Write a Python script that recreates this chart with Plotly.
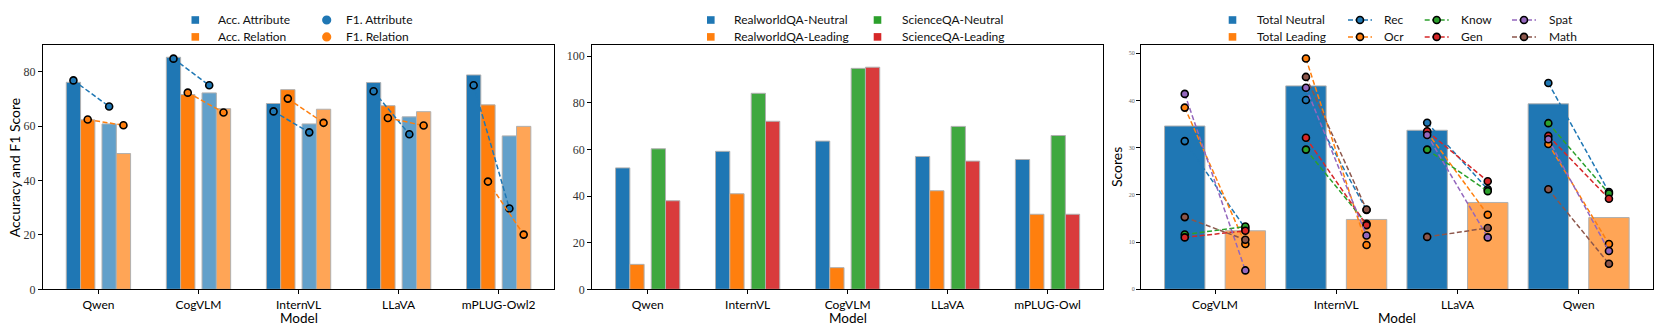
import plotly.graph_objects as go

# ---------------- data ----------------
models_1 = ["Qwen", "CogVLM", "InternVL", "LLaVA", "mPLUG-Owl2"]
acc_attr_a = [76.1, 85.3, 68.3, 76.0, 78.8]
acc_rel_a = [62.3, 71.6, 73.4, 67.5, 67.8]
acc_attr_b = [60.8, 72.2, 60.8, 63.4, 56.4]
acc_rel_b = [49.9, 66.4, 66.2, 65.3, 59.9]
f1_attr_a = [76.8, 84.8, 65.4, 72.8, 75.0]
f1_attr_b = [67.2, 75.0, 57.7, 57.0, 29.7]
f1_rel_a = [62.4, 72.3, 70.1, 63.0, 39.6]
f1_rel_b = [60.3, 65.0, 61.2, 60.2, 20.1]

models_2 = ["Qwen", "InternVL", "CogVLM", "LLaVA", "mPLUG-Owl"]
rw_neutral = [52.1, 59.2, 63.6, 57.0, 55.7]
rw_leading = [10.7, 41.0, 9.3, 42.3, 32.2]
sq_neutral = [60.3, 84.1, 94.8, 69.9, 66.0]
sq_leading = [38.0, 72.1, 95.3, 55.0, 32.2]

models_3 = ["CogVLM", "InternVL", "LLaVA", "Qwen"]
total_neutral = [34.6, 43.1, 33.7, 39.3]
total_leading = [12.4, 14.8, 18.4, 15.2]
cat_names = ["Rec", "Ocr", "Know", "Gen", "Spat", "Math"]
cat_neutral = {
    "Rec": [31.4, 40.1, 35.3, 43.7],
    "Ocr": [38.5, 48.9, 33.3, 30.8],
    "Know": [11.6, 29.6, 29.6, 35.2],
    "Gen": [11.0, 32.1, 33.5, 32.5],
    "Spat": [41.4, 42.7, 32.7, 31.8],
    "Math": [15.3, 45.0, 11.1, 21.2],
}
cat_leading = {
    "Rec": [12.9, 16.8, 21.2, 20.6],
    "Ocr": [9.6, 9.4, 15.8, 9.6],
    "Know": [13.3, 13.9, 20.8, 20.3],
    "Gen": [12.4, 13.6, 22.9, 19.2],
    "Spat": [4.0, 11.4, 11.0, 8.1],
    "Math": [10.5, 16.9, 13.0, 5.4],
}

# ---------------- styles ----------------
W, H = 1661, 332
BLUE, ORANGE, GREEN, RED = "#1f77b4", "#ff7f0e", "#2ca02c", "#d62728"
LBLUE, LORANGE = "#62a0ca", "#ffa556"
GREEN2, RED2 = "#3fa83f", "#d93b3c"
CAT_COL = {"Rec": BLUE, "Ocr": ORANGE, "Know": GREEN, "Gen": RED,
           "Spat": "#9467bd", "Math": "#8c564b"}
EDGE = dict(color="#b0b0b0", width=1)
SANS = "Lato"
SERIF = "Liberation Serif"
DASH = "5px,2.5px"


def fx(p):
    return p / W


def fy(p):
    return 1 - p / H


fig = go.Figure()

# ---------------- panel 1 ----------------
w1 = 1 / 7
offs1 = [-1.75 * w1, -0.75 * w1, 0.75 * w1, 1.75 * w1]
idx1 = list(range(len(models_1)))
for vals, col, off in [(acc_attr_a, BLUE, offs1[0]), (acc_rel_a, ORANGE, offs1[1]),
                       (acc_attr_b, LBLUE, offs1[2]), (acc_rel_b, LORANGE, offs1[3])]:
    fig.add_trace(go.Bar(x=[i + off for i in idx1], y=vals, width=w1,
                         marker=dict(color=col, line=EDGE), showlegend=False,
                         xaxis="x", yaxis="y"))
for va, vb, col, oa, ob in [(f1_attr_a, f1_attr_b, BLUE, offs1[0], offs1[2]),
                            (f1_rel_a, f1_rel_b, ORANGE, offs1[1], offs1[3])]:
    xs, ys = [], []
    for i in idx1:
        xs += [i + oa, i + ob, None]
        ys += [va[i], vb[i], None]
    fig.add_trace(go.Scatter(x=xs, y=ys, mode="lines+markers",
                             line=dict(color=col, width=1.5, dash=DASH),
                             marker=dict(size=7, color=col, line=dict(color="black", width=1.6)),
                             showlegend=False, xaxis="x", yaxis="y"))

# ---------------- panel 2 ----------------
idx2 = list(range(len(models_2)))
for vals, col, off in [(rw_neutral, BLUE, offs1[0]), (rw_leading, ORANGE, offs1[1]),
                       (sq_neutral, GREEN2, offs1[2]), (sq_leading, RED2, offs1[3])]:
    fig.add_trace(go.Bar(x=[i + off for i in idx2], y=vals, width=w1,
                         marker=dict(color=col, line=EDGE), showlegend=False,
                         xaxis="x2", yaxis="y2"))

# ---------------- panel 3 ----------------
w3 = 1 / 3
idx3 = list(range(len(models_3)))
for vals, col, off in [(total_neutral, BLUE, -0.25), (total_leading, LORANGE, 0.25)]:
    fig.add_trace(go.Bar(x=[i + off for i in idx3], y=vals, width=w3,
                         marker=dict(color=col, line=EDGE), showlegend=False,
                         xaxis="x3", yaxis="y3"))
for name in cat_names:
    xs, ys = [], []
    for i in idx3:
        xs += [i - 0.25, i + 0.25, None]
        ys += [cat_neutral[name][i], cat_leading[name][i], None]
    fig.add_trace(go.Scatter(x=xs, y=ys, mode="lines+markers", name=name,
                             line=dict(color=CAT_COL[name], width=1.5, dash=DASH),
                             marker=dict(size=7, color=CAT_COL[name],
                                         line=dict(color="black", width=1.6)),
                             showlegend=False, xaxis="x3", yaxis="y3"))

# ---------------- axes ----------------
ytop, ybot = 45.3, 289.3
ydom = [fy(ybot), fy(ytop)]
doms = [[fx(42.8), fx(554.3)], [fx(592.2), fx(1103.0)], [fx(1141.0), fx(1652.7)]]
common_ax = dict(showline=True, mirror=True, linecolor="black", linewidth=1,
                 ticks="outside", ticklen=4, tickcolor="black", tickwidth=1,
                 showgrid=False, zeroline=False, automargin=False)

layout = dict(width=W, height=H, margin=dict(l=0, r=0, t=0, b=0),
              plot_bgcolor="white", paper_bgcolor="white", barmode="overlay",
              showlegend=False, font=dict(family=SANS, color="black"))
xranges = [[-0.556, 4.556], [-0.555, 4.555], [-0.611, 3.611]]
yranges = [[0, 89.7], [0, 104.7], [0, 51.7]]
cats = [models_1, models_2, models_3]
ytick_sets = [[0, 20, 40, 60, 80], [0, 20, 40, 60, 80, 100], [0, 10, 20, 30, 40, 50]]
for k in range(3):
    sfx = "" if k == 0 else str(k + 1)
    layout["xaxis" + sfx] = dict(common_ax, domain=doms[k], range=xranges[k],
                                 anchor="y" + sfx, tickmode="array",
                                 tickvals=list(range(len(cats[k]))), ticktext=cats[k],
                                 tickfont=dict(family=SANS, size=12, color="black"))
    layout["yaxis" + sfx] = dict(common_ax, domain=ydom, range=yranges[k],
                                 anchor="x" + sfx, tickmode="array",
                                 tickvals=ytick_sets[k],
                                 tickfont=dict(family=SERIF,
                                               size=12 if k < 2 else 6,
                                               color="#333" if k < 2 else "#666"))
fig.update_layout(**layout)

# ---------------- titles ----------------
ann = []
for k in range(3):
    cx = (doms[k][0] + doms[k][1]) / 2
    ann.append(dict(text="Model", x=cx, y=fy(317.5), xref="paper", yref="paper",
                    showarrow=False, xanchor="center", yanchor="middle", borderpad=0,
                    font=dict(family=SANS, size=13.5, color="black")))
ycen = fy((ytop + ybot) / 2)
ann.append(dict(text="Accuracy and F1 Score", x=fx(14), y=ycen, xref="paper", yref="paper",
                showarrow=False, textangle=-90, xanchor="center", yanchor="middle",
                borderpad=0, font=dict(family=SANS, size=14, color="black")))
ann.append(dict(text="Scores", x=fx(1116.7), y=ycen, xref="paper", yref="paper",
                showarrow=False, textangle=-90, xanchor="center", yanchor="middle",
                borderpad=0, font=dict(family=SANS, size=14, color="black")))

# ---------------- legends (drawn manually) ----------------
shapes = []


def leg_text(x, y, t):
    ann.append(dict(text=t, x=fx(x), y=fy(y), xref="paper", yref="paper", showarrow=False,
                    xanchor="left", yanchor="middle", borderpad=0,
                    font=dict(family=SANS, size=12, color="#111")))


def leg_square(x, y, col, s=3.8):
    shapes.append(dict(type="rect", xref="paper", yref="paper", xsizemode="pixel",
                       ysizemode="pixel", xanchor=fx(x), yanchor=fy(y),
                       x0=-s, x1=s, y0=-s, y1=s, fillcolor=col, line=dict(width=0)))


def leg_circle(x, y, col, r=4.6, edge=False):
    shapes.append(dict(type="circle", xref="paper", yref="paper", xsizemode="pixel",
                       ysizemode="pixel", xanchor=fx(x), yanchor=fy(y),
                       x0=-r, x1=r, y0=-r, y1=r, fillcolor=col,
                       line=dict(width=1.6 if edge else 0, color="black")))


def leg_line(x, y, col):
    shapes.append(dict(type="line", xref="paper", yref="paper", xsizemode="pixel",
                       ysizemode="pixel", xanchor=fx(x), yanchor=fy(y),
                       x0=-12, x1=12, y0=0, y1=0,
                       line=dict(color=col, width=1.5, dash=DASH)))


r1, r2 = 20.0, 36.9
# panel 1
leg_square(195.3, r1, BLUE); leg_text(216.7, r1, "Acc. Attribute")
leg_square(195.3, r2, ORANGE); leg_text(216.7, r2, "Acc. Relation")
leg_circle(326.7, r1, BLUE); leg_text(345, r1, "F1. Attribute")
leg_circle(326.7, r2, ORANGE); leg_text(345, r2, "F1. Relation")
# panel 2
leg_square(710.8, r1, BLUE); leg_text(732.7, r1, "RealworldQA-Neutral")
leg_square(710.8, r2, ORANGE); leg_text(732.7, r2, "RealworldQA-Leading")
leg_square(877.5, r1, GREEN); leg_text(900.7, r1, "ScienceQA-Neutral")
leg_square(877.5, r2, RED); leg_text(900.7, r2, "ScienceQA-Leading")
# panel 3
leg_square(1232.5, r1, BLUE); leg_text(1256, r1, "Total Neutral")
leg_square(1232.5, r2, ORANGE); leg_text(1256, r2, "Total Leading")
cols3 = [(1360, 1383, "Rec", "Ocr"), (1436.7, 1460, "Know", "Gen"), (1524, 1548, "Spat", "Math")]
for cxp, tx, n1, n2 in cols3:
    for rr, nm in [(r1, n1), (r2, n2)]:
        leg_line(cxp, rr, CAT_COL[nm])
        leg_circle(cxp, rr, CAT_COL[nm], r=3.5, edge=True)
        leg_text(tx, rr, nm)

fig.update_layout(annotations=ann, shapes=shapes)
fig.write_html("out.html", config={"displayModeBar": False},
               post_script="document.body.style.margin='0px';"
                           "document.documentElement.style.overflow='hidden';")
